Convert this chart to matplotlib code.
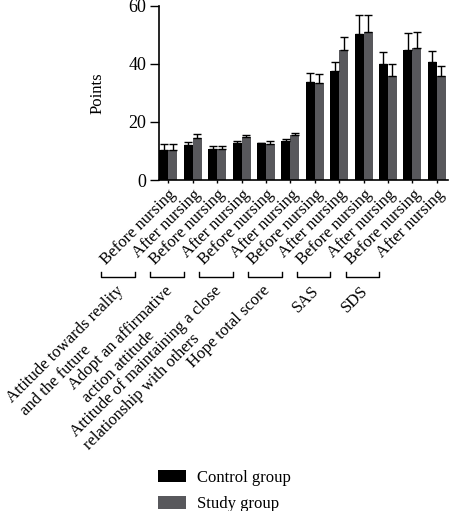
import matplotlib
matplotlib.use("Agg")
from matplotlib import pyplot as plt
import numpy as np

plt.rcParams['font.family'] = ['Liberation Serif', 'DejaVu Serif']

# data
tick_labels = ["Before nursing", "After nursing"] * 6
groups = ["Attitude towards reality\nand the future",
          "Adopt an affirmative\naction attitude",
          "Attitude of maintaining a close\nrelationship with others",
          "Hope total score", "SAS", "SDS"]
control = [10.3, 12.0, 10.6, 12.6, 12.8, 13.4, 33.7, 37.6, 50.2, 39.9, 44.7, 40.7]
control_err = [2.1, 1.2, 1.2, 0.7, 0.1, 0.7, 3.2, 3.0, 6.5, 4.1, 5.9, 3.6]
study = [10.3, 14.5, 10.6, 14.8, 12.5, 15.6, 33.4, 44.9, 50.8, 35.7, 45.4, 35.7]
study_err = [2.1, 1.2, 1.0, 0.6, 0.8, 0.5, 3.0, 4.2, 5.9, 4.1, 5.7, 3.4]

x = np.arange(len(tick_labels))
w = 0.37

fig = plt.figure(figsize=(4.53, 5.11), dpi=100)
ax = fig.add_axes([0.350, 0.6477, 0.639, 0.341])

ax.bar(x - w / 2, control, w, color='black', label='Control group',
       yerr=[np.zeros(len(x)), control_err], capsize=3,
       error_kw=dict(elinewidth=1, capthick=1, ecolor='black'))
ax.bar(x + w / 2, study, w, color='#58585c', label='Study group',
       yerr=[np.zeros(len(x)), study_err], capsize=3,
       error_kw=dict(elinewidth=1, capthick=1, ecolor='black'))

ax.set_xlim(-0.40, 11.46)
ax.set_ylim(0, 60)
ax.set_yticks([0, 20, 40, 60])
ax.set_xticks(x)
ax.set_xticklabels(tick_labels, rotation=45, ha='right', va='top',
                   rotation_mode='anchor', fontsize=12)
ax.tick_params(axis='y', length=6.5, width=1, pad=2.5, labelsize=13)
ax.tick_params(axis='x', length=2.5, width=1, pad=2)
for s in ['top', 'right']:
    ax.spines[s].set_visible(False)
for s in ['left', 'bottom']:
    ax.spines[s].set_linewidth(1.2)

ax.set_ylabel("Points", fontsize=12)
ax.yaxis.set_label_coords(-0.182, 0.5)

# brackets and group names under the tick labels
trans = ax.get_xaxis_transform()
for k, name in enumerate(groups):
    c = 2 * k - 2.05
    ax.plot([c - 0.69, c - 0.69, c + 0.69, c + 0.69],
            [-0.527, -0.556, -0.556, -0.527], color='black', lw=1,
            transform=trans, clip_on=False)
    ax.text(c - 0.1, -0.59, name, transform=trans, rotation=45,
            ha='right', va='top', rotation_mode='anchor',
            multialignment='left', fontsize=12)

fig.legend(loc='upper left', bbox_to_anchor=(0.349, 0.081), frameon=False,
           fontsize=12, handlelength=1.7, handleheight=0.8,
           handletextpad=0.65, labelspacing=0.6, borderpad=0,
           borderaxespad=0)

fig.savefig("out.png", dpi=100)
